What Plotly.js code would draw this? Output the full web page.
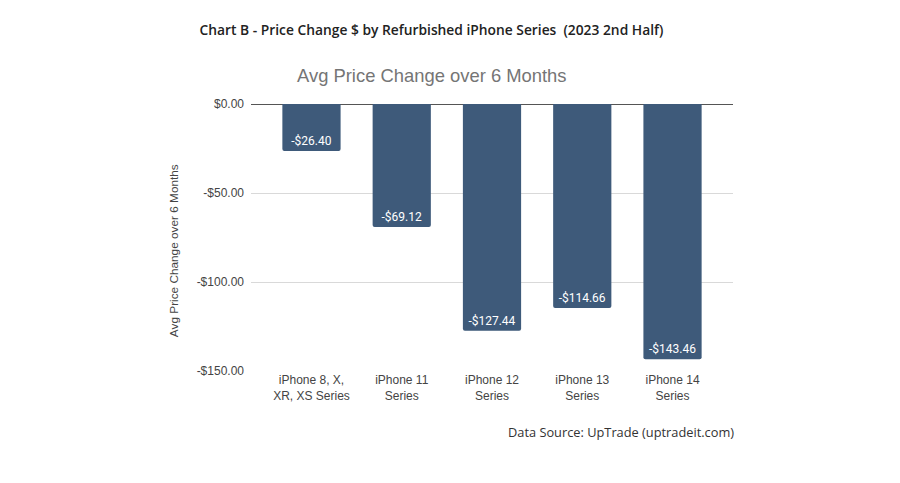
<!DOCTYPE html>
<html>
<head>
<meta charset="utf-8">
<script src="https://cdn.plot.ly/plotly-3.0.1.min.js"></script>
<style>html,body{margin:0;padding:0;background:#fff;}#chart{width:900px;height:483px;}</style>
</head>
<body>
<div id="chart"></div>
<script>
var categories = ["iPhone 8, X,<br>XR, XS Series", "iPhone 11<br>Series", "iPhone 12<br>Series", "iPhone 13<br>Series", "iPhone 14<br>Series"];
var priceChange = [-26.40, -69.12, -127.44, -114.66, -143.46];
var yTickVals = [0, -50, -100, -150];
var yTickText = ["$0.00", "-$50.00", "-$100.00", "-$150.00"];

var labels = priceChange.map(function (v) { return (v < 0 ? "-$" : "$") + Math.abs(v).toFixed(2); });

var trace = {
  type: "bar",
  x: categories,
  y: priceChange,
  text: labels,
  textposition: "inside",
  insidetextanchor: "end",
  textfont: {family: "Roboto, Liberation Sans, Arial", size: 12, color: "#ffffff"},
  marker: {color: "#3e5a7a", cornerradius: 2},
  width: 0.645,
  hoverinfo: "none"
};

var L = 251, T = 104, PW = 482, PH = 267.3, B = 112;
function px(x) { return (x - L) / PW; }
function py(y) { return (483 - B - y) / PH; }

var layout = {
  width: 900,
  height: 483,
  paper_bgcolor: "#ffffff",
  plot_bgcolor: "#ffffff",
  margin: {l: L, r: 900 - L - PW, t: T, b: B},
  showlegend: false,
  title: {
    text: "Chart B - Price Change $ by Refurbished iPhone Series  (2023 2nd Half)",
    font: {family: "Open Sans, sans-serif", size: 13.8, color: "#222222", weight: 600},
    x: 431.5 / 900, xanchor: "center", xref: "container",
    y: 1 - 30 / 483, yanchor: "middle", yref: "container"
  },
  xaxis: {
    type: "category",
    range: [-0.67, 4.67],
    tickfont: {family: "Liberation Sans, Arial", size: 12, color: "#444444"},
    showgrid: false,
    showline: false,
    zeroline: false,
    ticks: ""
  },
  yaxis: {
    range: [-150, 0],
    tickvals: yTickVals,
    ticktext: yTickText,
    tickfont: {family: "Liberation Sans, Arial", size: 12, color: "#444444"},
    gridcolor: "#d9d9d9",
    gridwidth: 1,
    zeroline: true,
    zerolinecolor: "#555555",
    zerolinewidth: 1,
    showline: false,
    ticks: "",
    ticklabelstandoff: 6
  },
  annotations: [
    {
      text: "Avg Price Change over 6 Months",
      xref: "paper", yref: "paper",
      x: px(431.5), y: py(75),
      xanchor: "center", yanchor: "middle",
      showarrow: false,
      font: {family: "Liberation Sans, Arial", size: 18.4, color: "#757575"}
    },
    {
      text: "Avg Price Change over 6 Months",
      xref: "paper", yref: "paper",
      x: px(174), y: py(251),
      xanchor: "center", yanchor: "middle",
      textangle: -90,
      showarrow: false,
      font: {family: "Liberation Sans, Arial", size: 11.8, color: "#444444"}
    },
    {
      text: "Data Source: UpTrade (uptradeit.com)",
      xref: "paper", yref: "paper",
      x: px(736), y: py(431.7),
      xanchor: "right", yanchor: "middle",
      showarrow: false,
      font: {family: "Open Sans, sans-serif", size: 12.8, color: "#333333"}
    }
  ]
};

Plotly.newPlot("chart", [trace], layout, {displayModeBar: false, staticPlot: true});
</script>
</body>
</html>
